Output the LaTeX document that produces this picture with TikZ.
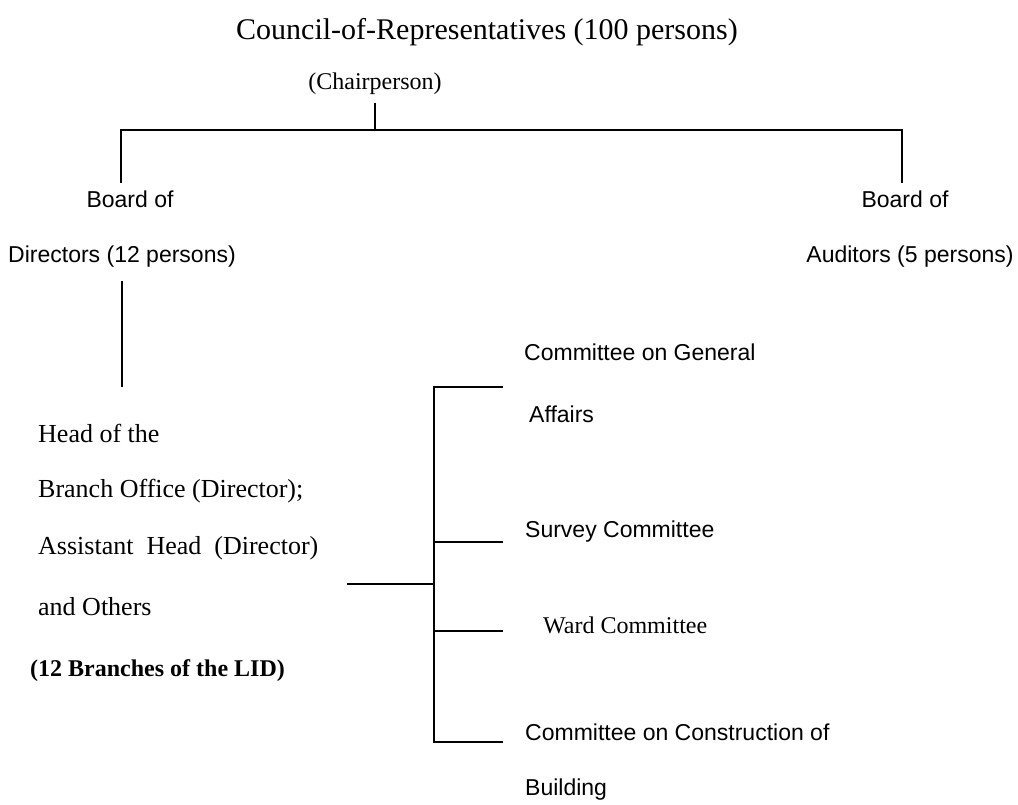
\documentclass[tikz,border=0pt]{standalone}
\usepackage{fontspec}
\setmainfont{Liberation Serif}
\setsansfont{Liberation Sans}
\begin{document}
\begin{tikzpicture}[x=1pt,y=-1pt,
  serif/.style={font=\fontsize{26}{30}\selectfont, inner sep=0pt},
  sans/.style={font=\sffamily\fontsize{23}{27}\selectfont, inner sep=0pt},
  conn/.style={line width=1.2pt, line cap=rect}]
\useasboundingbox (0,0) rectangle (1018,804);
% top
\node[serif, font=\fontsize{30}{34}\selectfont] (council) at (487,32) {Council-of-Representatives (100 persons)};
\node[serif, font=\fontsize{24}{28}\selectfont] (chair) at (375,84) {(Chairperson)};
\coordinate (chtop) at (375,104);
\coordinate (hub) at (375,130);
\coordinate (lcorner) at (121,130);
\coordinate (rcorner) at (902,130);
\coordinate (lend) at (121,182);
\coordinate (rend) at (902,182);
\node[sans] (bodL) at (130,199) {Board of};
\node[sans] (dirs) at (122,257) {Directors (12 persons)};
\node[sans] (bodR) at (905,199) {Board of};
\node[sans] (aud) at (910,257) {Auditors (5 persons)};
\draw[conn] (chtop) -- (hub);
\draw[conn] (lend) -- (lcorner) -- (rcorner) -- (rend);
% directors down
\coordinate (dtop) at (122,282);
\coordinate (dbot) at (122,386);
\draw[conn] (dtop) -- (dbot);
% head block
\node[serif, anchor=west] (h1) at (38,433) {Head of the};
\node[serif, anchor=west] (h2) at (38,491) {Branch Office (Director);};
\node[serif, anchor=west] (h3) at (38,548) {Assistant\ \ Head\ \ (Director)};
\node[serif, anchor=west] (h4) at (38,607) {and Others};
\node[serif, anchor=west, font=\bfseries\fontsize{24}{28}\selectfont] (h5) at (30,671) {(12 Branches of the LID)};
% bracket
\coordinate (lstart) at (348,584);
\coordinate (bj) at (434,584);
\coordinate (btop) at (434,387);
\coordinate (bbot) at (434,742);
\coordinate (b2) at (434,542);
\coordinate (b3) at (434,631);
\coordinate (e1) at (502,387);
\coordinate (e2) at (502,542);
\coordinate (e3) at (502,631);
\coordinate (e4) at (502,742);
\draw[conn] (lstart) -- (bj);
\draw[conn] (e1) -- (btop) -- (bbot) -- (e4);
\draw[conn] (b2) -- (e2);
\draw[conn] (b3) -- (e3);
% committees
\node[sans, anchor=west] (c1a) at (524,352) {Committee on General};
\node[sans, anchor=west] (c1b) at (529,414) {Affairs};
\node[sans, anchor=west] (c2) at (525,532) {Survey Committee};
\node[serif, anchor=west, font=\fontsize{24}{28}\selectfont] (c3) at (543,625) {Ward Committee};
\node[sans, anchor=west] (c4a) at (525,732) {Committee on Construction of};
\node[sans, anchor=west] (c4b) at (525,790) {Building};
\end{tikzpicture}
\end{document}
